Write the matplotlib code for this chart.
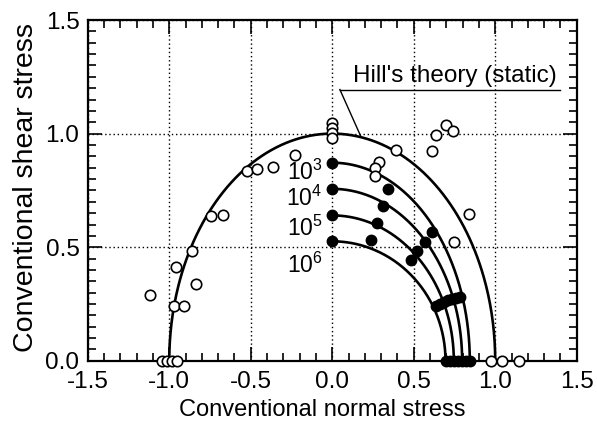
import numpy as np
import matplotlib
matplotlib.use("Agg")
import matplotlib.pyplot as plt
from matplotlib.ticker import MultipleLocator, FormatStrFormatter

plt.rcParams['font.family'] = ['Liberation Sans', 'DejaVu Sans']
plt.rcParams['mathtext.fontset'] = 'custom'
plt.rcParams['mathtext.rm'] = 'Liberation Sans'
plt.rcParams['mathtext.it'] = 'Liberation Sans'
plt.rcParams['mathtext.default'] = 'regular'
plt.rcParams['axes.unicode_minus'] = False

# Hill's theory (static): semi-axes of the yield ellipse
hill_a, hill_b = 1.0, 1.0

# fatigue curves: cycles, normal-stress intercept, shear-stress intercept
cycles = ['10^3', '10^4', '10^5', '10^6']
curve_a = [0.844, 0.797, 0.746, 0.695]
curve_b = [0.872, 0.757, 0.640, 0.526]
label_y = [0.83, 0.715, 0.585, 0.42]

# static test data (open circles)
static_x = [-1.12, -0.957, -0.859, -0.833, -0.972, -0.910, -0.742, -0.669,
            -1.043, -1.012, -0.982, -0.951, -0.521, -0.464, -0.362, -0.228,
            0.0, 0.0, 0.0, 0.0, 0.393, 0.613, 0.638, 0.699, 0.740,
            0.290, 0.260, 0.260, 0.838, 0.746, 0.977, 1.039, 1.145]
static_y = [0.29, 0.415, 0.485, 0.339, 0.242, 0.242, 0.639, 0.643,
            0.0, 0.0, 0.0, 0.0, 0.834, 0.844, 0.852, 0.907,
            1.047, 1.025, 1.003, 0.981, 0.926, 0.922, 0.996, 1.040, 1.010,
            0.874, 0.849, 0.812, 0.645, 0.523, 0.0, 0.0, 0.0]

# fatigue test data (filled circles)
fatigue_x = [0.0, 0.0, 0.0, 0.0, 0.341, 0.311, 0.276, 0.239,
             0.613, 0.568, 0.521, 0.485,
             0.634, 0.685, 0.736, 0.783, 0.66, 0.71, 0.76,
             0.695, 0.72, 0.746, 0.77, 0.797, 0.82, 0.844]
fatigue_y = [0.872, 0.757, 0.640, 0.526, 0.756, 0.683, 0.606, 0.533,
             0.567, 0.523, 0.482, 0.445,
             0.242, 0.261, 0.272, 0.283, 0.25, 0.268, 0.278,
             0.0, 0.0, 0.0, 0.0, 0.0, 0.0, 0.0]

fig = plt.figure(figsize=(5.97, 4.26), dpi=100)
ax = fig.add_axes([0.147, 0.153, 0.819, 0.800])

# Hill's curve
t = np.linspace(0, np.pi, 300)
ax.plot(hill_a * np.cos(t), hill_b * np.sin(t), color='black', lw=1.9, zorder=3)

# fatigue curves (quarter ellipses)
q = np.linspace(0, np.pi / 2, 200)
for a, b, lab, ly in zip(curve_a, curve_b, cycles, label_y):
    ax.plot(a * np.cos(q), b * np.sin(q), color='black', lw=1.9, zorder=3)
    ax.text(-0.06, ly, '$' + lab + '$', ha='right', va='center', fontsize=16.5)

ax.plot(static_x, static_y, 'o', mfc='white', mec='black', mew=1.2, ms=7.5,
        ls='none', zorder=4, clip_on=False)
ax.plot(fatigue_x, fatigue_y, 'o', color='black', ms=7.5, ls='none', zorder=5,
        clip_on=False)

# annotation for Hill's theory
ax.text(0.13, 1.229, "Hill's theory (static)", fontsize=17.5, ha='left', va='baseline')
ax.plot([0.047, 1.40], [1.194, 1.194], color='black', lw=1)
ax.plot([0.047, 0.174], [1.194, 0.99], color='black', lw=1)

ax.set_xlim(-1.5, 1.5)
ax.set_ylim(0, 1.5)
ax.xaxis.set_major_locator(MultipleLocator(0.5))
ax.xaxis.set_minor_locator(MultipleLocator(0.1))
ax.yaxis.set_major_locator(MultipleLocator(0.5))
ax.yaxis.set_minor_locator(MultipleLocator(0.05))
ax.xaxis.set_major_formatter(FormatStrFormatter('%.1f'))
ax.yaxis.set_major_formatter(FormatStrFormatter('%.1f'))
ax.tick_params(which='both', direction='in', top=True, right=True,
               labelsize=17.5, width=1.2)
ax.tick_params(which='major', length=10)
ax.tick_params(axis='x', which='major', pad=7.2)
ax.tick_params(axis='y', which='major', pad=6)
ax.tick_params(which='minor', length=6)
ax.grid(True, which='major', ls=(0, (1, 2)), color='black', lw=1)
for s in ax.spines.values():
    s.set_linewidth(1.6)

ax.set_xlabel('Conventional normal stress', fontsize=17)
ax.xaxis.set_label_coords(0.48, -0.1115)
ax.set_ylabel('Conventional shear stress', fontsize=20.5)
ax.yaxis.set_label_coords(-0.10, 0.51)

fig.savefig('out.png', dpi=100)
